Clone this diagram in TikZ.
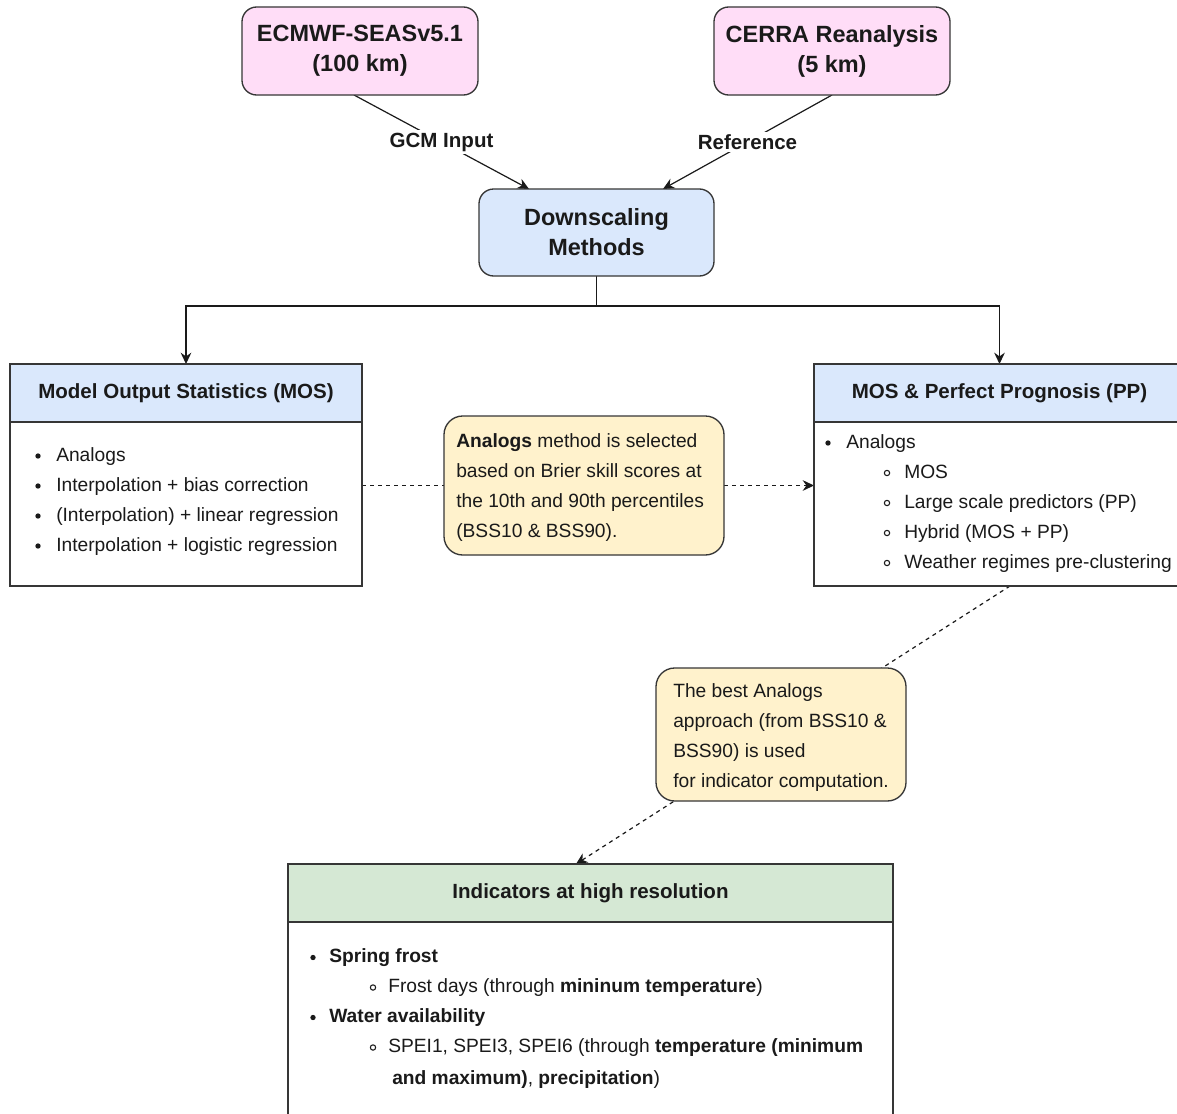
\documentclass[tikz,border=0pt]{standalone}
\usepackage{fontspec}
\setmainfont{Liberation Sans}
\usetikzlibrary{arrows.meta,calc,fit,backgrounds}
\definecolor{pinkf}{HTML}{FFDDF7}
\definecolor{bluef}{HTML}{DAE8FC}
\definecolor{greenf}{HTML}{D5E8D4}
\definecolor{yellowf}{HTML}{FFF2CC}
\definecolor{edgec}{HTML}{363636}
\definecolor{ink}{HTML}{1A1A1A}
\tikzset{
  boxbase/.style={draw=edgec, line width=1pt, inner sep=0pt, outer sep=0pt},
  pinkbox/.style={boxbase, fill=pinkf, rounded corners=11pt},
  bluebox/.style={boxbase, fill=bluef, rounded corners=11pt},
  headblue/.style={boxbase, fill=bluef},
  headgreen/.style={boxbase, fill=greenf},
  bodybox/.style={boxbase, fill=white},
  notebox/.style={boxbase, fill=yellowf, rounded corners=14pt},
  bigtxt/.style={font=\bfseries\fontsize{17.6}{22.5}\selectfont, align=center, text=ink, inner sep=0pt},
  ttl/.style={font=\bfseries\fontsize{15.4}{18}\selectfont, text=ink, inner sep=0pt},
  itm/.style={anchor=base west, inner sep=0pt, font=\fontsize{14.4}{18}\selectfont, text=ink},
  lbl/.style={font=\bfseries\fontsize{15.4}{18}\selectfont, text=ink, fill=white, inner sep=2pt},
  arr/.style={-{Stealth[length=8.5pt,width=8pt,inset=2.8pt]}, line width=0.9pt, draw=ink},
  plainln/.style={line width=0.9pt, draw=ink},
  dashln/.style={line width=0.9pt, draw=ink, dash pattern=on 3pt off 3pt},
}
\newcommand{\blt}[2]{\fill[ink] (#1,#2) circle (2pt);}
\newcommand{\hcirc}[2]{\draw[ink, line width=0.8pt] (#1,#2) circle (2pt);}
\begin{document}
\begin{tikzpicture}[x=0.75pt, y=-0.75pt]
\useasboundingbox (0,0) rectangle (1177,1113);

% top boxes
\node[pinkbox, fit={(242,7)(478,95)}] (ecm) {};
\node[bigtxt] (ecmT) at (ecm.center) {ECMWF-SEASv5.1\\(100 km)};
\node[pinkbox, fit={(714,7)(950,95)}] (cerra) {};
\node[bigtxt] (cerraT) at (cerra.center) {CERRA Reanalysis\\(5 km)};

% downscaling
\node[bluebox, fit={(479,189)(714,276)}] (ds) {};
\node[bigtxt] (dsT) at (ds.center) {Downscaling\\Methods};

% MOS box
\node[headblue, fit={(10,364)(362,422)}] (mosH) {};
\node[ttl] (mosT) at (mosH.center) {Model Output Statistics (MOS)};
\node[bodybox, fit={(10,422)(362,586)}] (mosB) {};
\node[itm] (mos1) at (56,461) {Analogs};
\node[itm] (mos2) at (56,491) {Interpolation + bias correction};
\node[itm] (mos3) at (56,521) {(Interpolation) + linear regression};
\node[itm] (mos4) at (56,551) {Interpolation + logistic regression};
\foreach \y in {461,491,521,551} {\blt{38}{\y-5}}

% MOS & PP box
\node[headblue, fit={(814,364)(1185,422)}] (ppH) {};
\node[ttl] (ppT) at (ppH.center) {MOS \& Perfect Prognosis (PP)};
\node[bodybox, fit={(814,422)(1185,586)}] (ppB) {};
\node[itm] (pp0) at (846,448) {Analogs};
\blt{828}{443}
\node[itm] (pp1) at (904,478) {MOS};
\node[itm] (pp2) at (904,508) {Large scale predictors (PP)};
\node[itm] (pp3) at (904,538) {Hybrid (MOS + PP)};
\node[itm] (pp4) at (904,568) {Weather regimes pre-clustering};
\foreach \y in {478,508,538,568} {\hcirc{887}{\y-5}}

% note 1
\node[notebox, fit={(444,416)(724,555)}] (note1) {};
\node[itm] (n1a) at (456,447) {\textbf{Analogs} method is selected};
\node[itm] (n1b) at (456,477) {based on Brier skill scores at};
\node[itm] (n1c) at (456,507) {the 10th and 90th percentiles};
\node[itm] (n1d) at (456,537) {(BSS10 \& BSS90).};

% note 2
\node[notebox, fit={(656,668)(906,801)}] (note2) {};
\node[itm] (n2a) at (673,697) {The best Analogs};
\node[itm] (n2b) at (673,727) {approach (from BSS10 \&};
\node[itm] (n2c) at (673,757) {BSS90) is used};
\node[itm] (n2d) at (673,787) {for indicator computation.};

% indicators
\node[headgreen, fit={(288,864)(893,922)}] (indH) {};
\node[ttl] (indT) at (indH.center) {Indicators at high resolution};
\node[bodybox, fit={(288,922)(893,1140)}] (indB) {};
\node[itm] (i1) at (329,962.5) {\textbf{Spring frost}};
\blt{313}{957.5}
\node[itm] (i2) at (388,992.5) {Frost days (through \textbf{mininum temperature})};
\hcirc{373}{987.5}
\node[itm] (i3) at (329,1022.5) {\textbf{Water availability}};
\blt{313}{1017.5}
\node[itm] (i4) at (388,1052.5) {SPEI1, SPEI3, SPEI6 (through \textbf{temperature (minimum}};
\hcirc{373}{1047.5}
\node[itm] (i5) at (392,1084.5) {\textbf{and maximum)}, \textbf{precipitation})};

% connectors
\coordinate (ecmOut) at ($(ecm.south)+(-6,0)$);
\coordinate (dsIn1) at ($(ds.north west)+(50,0)$);
\coordinate (dsIn2) at ($(ds.north east)+(-51,0)$);
\coordinate (ppOut) at ($(ppB.south west)+(196,0)$);
\coordinate (indIn) at ($(indH.north west)+(288,0)$);

\begin{scope}[on background layer]
\fill[white] (0,0) rectangle (1177,1113);
\draw[arr] (ecmOut) -- node[lbl] (gcm) {GCM Input} (dsIn1);
\draw[arr] (cerra.south) -- node[lbl] (ref) {Reference} (dsIn2);
\draw[arr] (ds.south) -- ++(0,30) -| (mosH.north);
\draw[arr] (ds.south) -- ++(0,30) -| (ppH.north);
\draw[dashln] (note1.west -| mosB.east) -- (note1.west);
\draw[dashln, arr] (note1.east) -- (note1.east -| ppB.west);
\draw[dashln, arr] (ppOut) -- (indIn);
\end{scope}
\end{tikzpicture}
\end{document}
